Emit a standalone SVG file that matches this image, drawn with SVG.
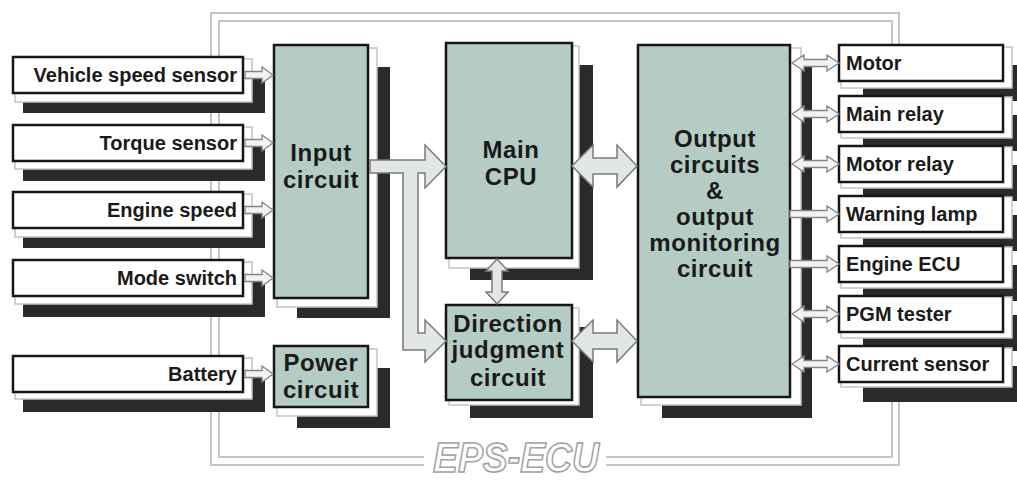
<svg xmlns="http://www.w3.org/2000/svg" width="1017" height="481" viewBox="0 0 1017 481">
<style>
.frame{fill:none;stroke:#c2c6c5;stroke-width:2}
.shadow{fill:#2a2a2a}
.gap{fill:#ffffff;stroke:#c4c4c4;stroke-width:1.5}
.box{fill:#ffffff;stroke:#161616;stroke-width:2.5}
.blk{fill:#b5ccc5;stroke:#161616;stroke-width:2.5}
.st{font-family:"Liberation Sans",Arial,sans-serif;font-weight:bold;font-size:20px;fill:#1a1a1a}
.bt{font-family:"Liberation Sans",Arial,sans-serif;font-weight:bold;font-size:24px;letter-spacing:0.6px;fill:#1a1a1a;text-anchor:middle}
.sa{fill:#f2f4f3;stroke:#858585;stroke-width:1.3}
.ba{fill:#e2e6e4;stroke:#7a7a7a;stroke-width:1.5}
</style>
<rect width="1017" height="481" fill="#ffffff"/>
<g id="frame">
<rect class="frame" x="211" y="13" width="688" height="452"/>
<rect class="frame" x="219" y="21" width="673" height="436"/>
<rect x="424" y="448" width="182" height="22" fill="#ffffff"/>
<text x="516" y="472" font-family="Liberation Sans,Arial,sans-serif" font-style="italic" font-weight="bold" font-size="42" textLength="166" lengthAdjust="spacingAndGlyphs" fill="#ffffff" stroke="#9ea2a1" stroke-width="1.6" text-anchor="middle">EPS-ECU</text>
</g>
<g id="vehicle-speed-sensor">
<rect class="shadow" x="23" y="77" width="242" height="36"/>
<rect class="gap" x="15" y="59" width="237" height="43"/>
<rect class="box" x="13" y="57" width="230" height="36"/>
<text class="st" x="237" y="82" text-anchor="end">Vehicle speed sensor</text>
</g>
<g id="torque-sensor">
<rect class="shadow" x="23" y="145" width="242" height="36"/>
<rect class="gap" x="15" y="127" width="237" height="42"/>
<rect class="box" x="13" y="125" width="230" height="36"/>
<text class="st" x="237" y="150" text-anchor="end">Torque sensor</text>
</g>
<g id="engine-speed">
<rect class="shadow" x="23" y="212" width="242" height="36"/>
<rect class="gap" x="15" y="194" width="237" height="43"/>
<rect class="box" x="13" y="192" width="230" height="36"/>
<text class="st" x="237" y="217" text-anchor="end">Engine speed</text>
</g>
<g id="mode-switch">
<rect class="shadow" x="23" y="280" width="242" height="37"/>
<rect class="gap" x="15" y="262" width="237" height="42"/>
<rect class="box" x="13" y="260" width="230" height="36"/>
<text class="st" x="237" y="285" text-anchor="end">Mode switch</text>
</g>
<g id="battery">
<rect class="shadow" x="23" y="376" width="242" height="36"/>
<rect class="gap" x="15" y="358" width="237" height="41"/>
<rect class="box" x="13" y="356" width="230" height="36"/>
<text class="st" x="237" y="381" text-anchor="end">Battery</text>
</g>
<g id="input-circuit">
<rect class="shadow" x="297" y="67" width="93" height="251"/>
<rect class="gap" x="277" y="48" width="100" height="259"/>
<rect class="blk" x="274" y="45" width="94" height="253"/>
<text class="bt" x="321" y="161">Input</text>
<text class="bt" x="321" y="188">circuit</text>
</g>
<g id="power-circuit">
<rect class="shadow" x="297" y="368" width="93" height="60"/>
<rect class="gap" x="277" y="349" width="100" height="67"/>
<rect class="blk" x="274" y="346" width="94" height="61"/>
<text class="bt" x="321" y="371">Power</text>
<text class="bt" x="321" y="398">circuit</text>
</g>
<g id="main-cpu">
<rect class="shadow" x="470" y="65" width="123" height="215"/>
<rect class="gap" x="449" y="46" width="130" height="222"/>
<rect class="blk" x="446" y="43" width="126" height="215"/>
<text class="bt" x="511" y="158">Main</text>
<text class="bt" x="511" y="185">CPU</text>
</g>
<g id="direction-judgment-circuit">
<rect class="shadow" x="470" y="327" width="123" height="91"/>
<rect class="gap" x="449" y="308" width="130" height="97"/>
<rect class="blk" x="446" y="305" width="126" height="95"/>
<text class="bt" x="508" y="332">Direction</text>
<text class="bt" x="508" y="358">judgment</text>
<text class="bt" x="508" y="386">circuit</text>
</g>
<g id="output-circuits">
<rect class="shadow" x="662" y="67" width="150" height="351"/>
<rect class="gap" x="641" y="48" width="160" height="357"/>
<rect class="blk" x="638" y="45" width="152" height="352"/>
<text class="bt" x="715" y="147">Output</text>
<text class="bt" x="715" y="173">circuits</text>
<text class="bt" x="715" y="199">&amp;</text>
<text class="bt" x="715" y="225">output</text>
<text class="bt" x="715" y="251">monitoring</text>
<text class="bt" x="715" y="277">circuit</text>
</g>
<g id="motor">
<rect class="shadow" x="863" y="65" width="170" height="36"/>
<rect class="gap" x="841" y="47" width="171" height="41"/>
<rect class="box" x="839" y="45" width="164" height="36"/>
<text class="st" x="846" y="70">Motor</text>
</g>
<g id="main-relay">
<rect class="shadow" x="863" y="115" width="170" height="36"/>
<rect class="gap" x="841" y="97" width="171" height="41"/>
<rect class="box" x="839" y="96" width="164" height="36"/>
<text class="st" x="846" y="121">Main relay</text>
</g>
<g id="motor-relay">
<rect class="shadow" x="863" y="165" width="170" height="36"/>
<rect class="gap" x="841" y="147" width="171" height="41"/>
<rect class="box" x="839" y="146" width="164" height="36"/>
<text class="st" x="846" y="171">Motor relay</text>
</g>
<g id="warning-lamp">
<rect class="shadow" x="863" y="215" width="170" height="36"/>
<rect class="gap" x="841" y="197" width="171" height="41"/>
<rect class="box" x="839" y="196" width="164" height="36"/>
<text class="st" x="846" y="221">Warning lamp</text>
</g>
<g id="engine-ecu">
<rect class="shadow" x="863" y="265" width="170" height="36"/>
<rect class="gap" x="841" y="247" width="171" height="41"/>
<rect class="box" x="839" y="246" width="164" height="36"/>
<text class="st" x="846" y="271">Engine ECU</text>
</g>
<g id="pgm-tester">
<rect class="shadow" x="863" y="315" width="170" height="36"/>
<rect class="gap" x="841" y="297" width="171" height="41"/>
<rect class="box" x="839" y="296" width="164" height="36"/>
<text class="st" x="846" y="321">PGM tester</text>
</g>
<g id="current-sensor">
<rect class="shadow" x="863" y="366" width="170" height="36"/>
<rect class="gap" x="841" y="348" width="171" height="39"/>
<rect class="box" x="839" y="346" width="164" height="36"/>
<text class="st" x="846" y="371">Current sensor</text>
</g>
<g id="connectors">
<polygon class="sa" points="245,71.5 262,71.5 262,67 273,75 262,83 262,78.5 245,78.5"/>
<polygon class="sa" points="245,139.5 262,139.5 262,135 273,143 262,151 262,146.5 245,146.5"/>
<polygon class="sa" points="245,206.5 262,206.5 262,202 273,210 262,218 262,213.5 245,213.5"/>
<polygon class="sa" points="245,274.5 262,274.5 262,270 273,278 262,286 262,281.5 245,281.5"/>
<polygon class="sa" points="245,370.5 262,370.5 262,366 273,374 262,382 262,377.5 245,377.5"/>
<polygon class="ba" points="370,160 425,160 425,145 446,166.5 425,188 425,173 418,173 418,333 425,333 425,320 446,341 425,362 425,350 403,350 403,173 370,173"/>
<polygon class="ba" points="572,166 593,145 593,158 617,158 617,145 637,166 617,187 617,174 593,174 593,187"/>
<polygon class="ba" points="572,341 593,320 593,333 617,333 617,320 637,341 617,362 617,349 593,349 593,362"/>
<polygon class="ba" points="497,259 508,271 502,271 502,292 508,292 497,304 486,292 492,292 492,271 486,271"/>
<polygon class="sa" points="792,63 804,55 804,59.5 827,59.5 827,55 839,63 827,71 827,66.5 804,66.5 804,71"/>
<polygon class="sa" points="792,114 804,106 804,110.5 827,110.5 827,106 839,114 827,122 827,117.5 804,117.5 804,122"/>
<polygon class="sa" points="792,164 804,156 804,160.5 827,160.5 827,156 839,164 827,172 827,167.5 804,167.5 804,172"/>
<polygon class="sa" points="790,210.5 827,210.5 827,206 839,214 827,222 827,217.5 790,217.5"/>
<polygon class="sa" points="790,260.5 827,260.5 827,256 839,264 827,272 827,267.5 790,267.5"/>
<polygon class="sa" points="792,314 804,306 804,310.5 827,310.5 827,306 839,314 827,322 827,317.5 804,317.5 804,322"/>
<polygon class="sa" points="792,364 804,356 804,360.5 827,360.5 827,356 839,364 827,372 827,367.5 804,367.5 804,372"/>
</g>
</svg>
